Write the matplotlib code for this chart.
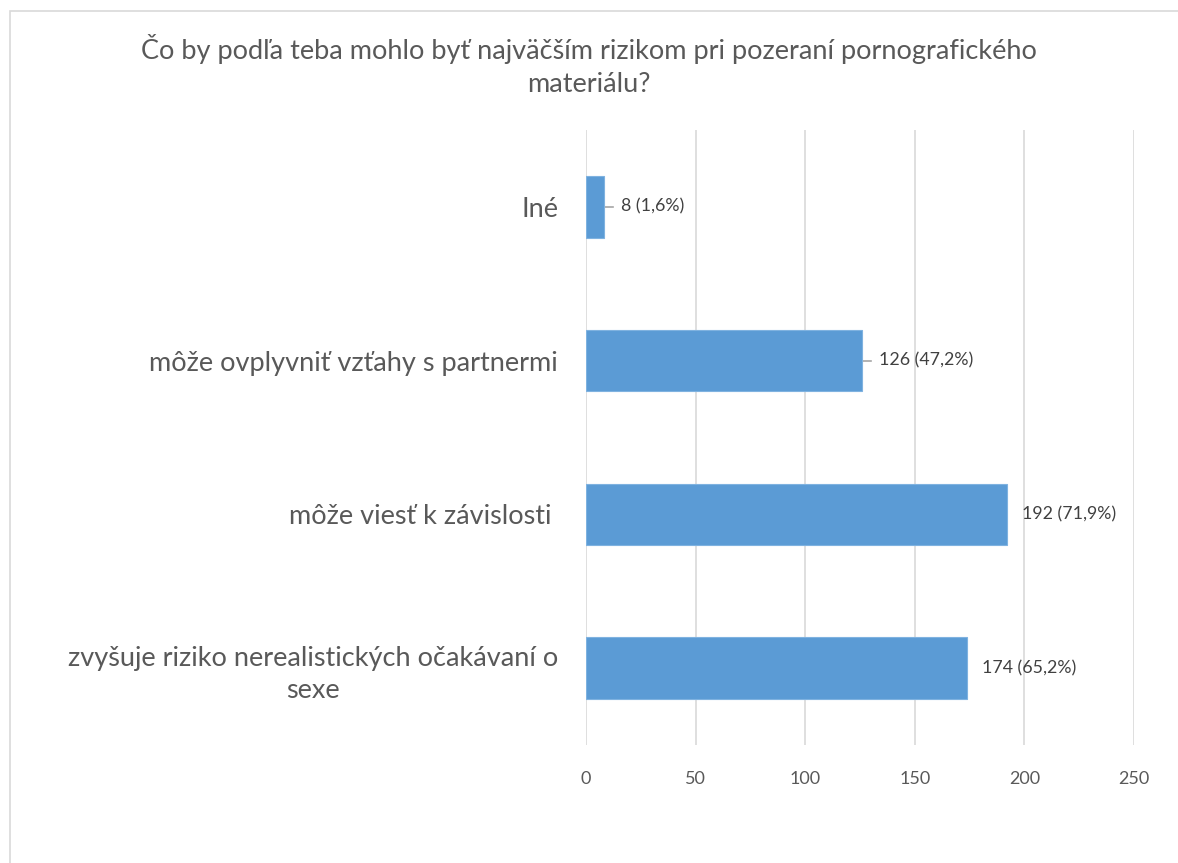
"""
Horizontálny stĺpcový graf - riziká pornografie
"""
import matplotlib
matplotlib.use("Agg")
import matplotlib.pyplot as plt
from matplotlib.patches import Rectangle

# dáta
categories = [
    "zvyšuje riziko nerealistických očakávaní o\nsexe",
    "môže viesť k závislosti ",
    "môže ovplyvniť vzťahy s partnermi",
    "Iné",
]
counts = [174, 192, 126, 8]
percents = ["65,2%", "71,9%", "47,2%", "1,6%"]
x_ticks = [0, 50, 100, 150, 200, 250]
title = "Čo by podľa teba mohlo byť najväčším rizikom pri pozeraní pornografického\nmateriálu?"

W, H = 1178, 863
plt.rcParams['font.family'] = ['Lato', 'DejaVu Sans']

fig = plt.figure(figsize=(W / 100, H / 100), dpi=100)
fig.patch.set_facecolor('white')

# rámik grafu
fig.add_artist(Rectangle((10 / W, -0.1), 1.2, 1 - 11 / H + 0.1,
                         transform=fig.transFigure, fill=False,
                         edgecolor='#D9D9D9', linewidth=1.2))

ax = fig.add_axes([586 / W, 1 - 745 / H, (1134 - 586) / W, (745 - 130) / H])
y = list(range(len(categories)))
ax.barh(y, counts, height=0.4, color='#5B9BD5', edgecolor='#7FB2E0', linewidth=0.8, zorder=3)

ax.set_xlim(0, 250)
ax.set_ylim(-0.5, len(categories) - 0.5)
ax.set_xticks(x_ticks)
ax.set_xticklabels([str(t) for t in x_ticks])
ax.set_yticks(y)
ax.set_yticklabels(categories, multialignment='center', linespacing=1.35)
ax.tick_params(axis='x', length=0, pad=19, labelsize=13, labelcolor='#595959')
ax.tick_params(axis='y', length=0, pad=20, labelsize=19.5, labelcolor='#595959')
ax.grid(axis='x', color='#D9D9D9', linewidth=1.2, zorder=0)
for s in ax.spines.values():
    s.set_visible(False)

# popisky hodnôt
px = 250 / (1134 - 586)
for i, (c, p) in enumerate(zip(counts, percents)):
    off = 15
    if c < 150:
        ax.plot([c, c + 9 * px], [i, i], color='#A6A6A6', linewidth=1.2, zorder=2,
                clip_on=False)
        off = 17
    ax.annotate(f"{c} ({p})", xy=(c, i), xytext=(off, 0), textcoords='offset pixels',
                va='center', ha='left', fontsize=12.8, color='#404040')

fig.text(0.5, 1 - 65 / H, title, ha='center', va='center', fontsize=19.5,
         color='#595959', linespacing=1.4)

fig.savefig("out.png", dpi=100)
